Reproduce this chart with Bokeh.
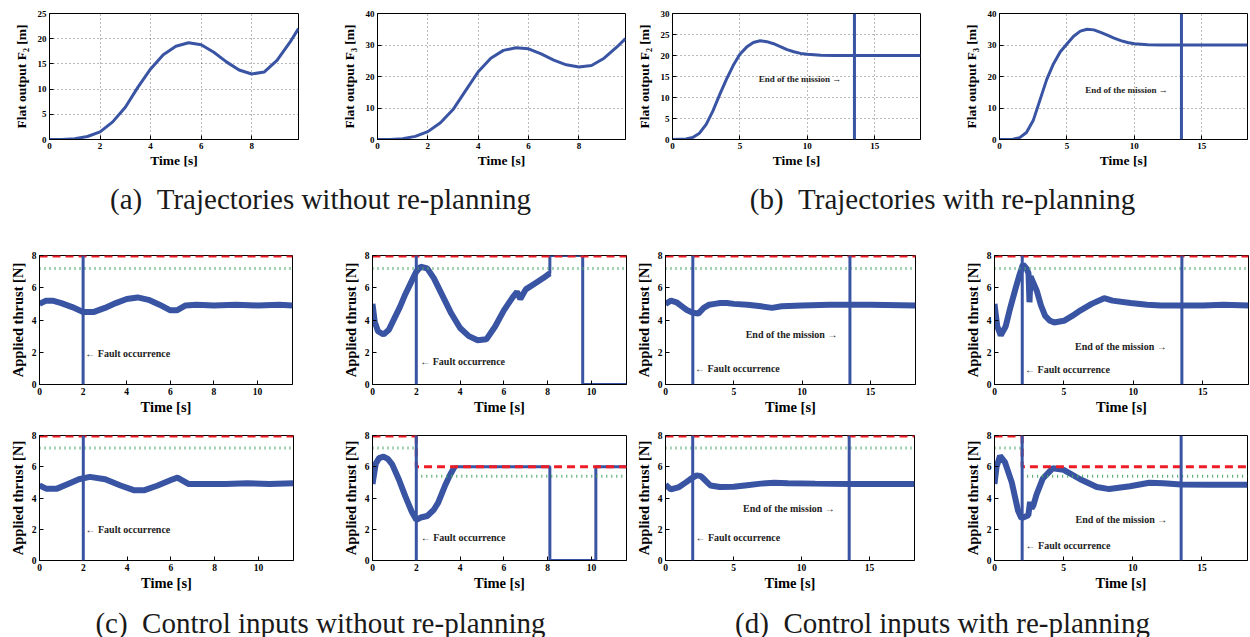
from bokeh.plotting import figure
from bokeh.models import Range1d, Span, Label, FixedTicker
from bokeh.layouts import row, column
from bokeh.embed import file_html
from bokeh.resources import INLINE

# ---------------- data ----------------
# (a) trajectories without re-planning
t_a = [0, 0.5, 1, 1.5, 2, 2.5, 3, 3.5, 4, 4.5, 5, 5.5, 6, 6.5, 7, 7.5, 8, 8.5, 9, 9.5, 9.85]
f2_a = [0, 0.02, 0.15, 0.6, 1.5, 3.5, 6.4, 10.4, 14.0, 16.8, 18.5, 19.2, 18.8, 17.3, 15.4, 13.8, 13.0, 13.4, 15.7, 19.2, 22.0]
f3_a = [0, 0.03, 0.25, 1.0, 2.5, 5.3, 9.5, 15.5, 21.5, 25.8, 28.3, 29.1, 28.8, 27.2, 25.2, 23.7, 23.0, 23.5, 25.8, 29.3, 32.0]

# (b) trajectories with re-planning
t_b = [0, 1, 1.5, 2, 2.5, 3, 3.5, 4, 4.5, 5, 5.5, 6, 6.5, 7, 7.5, 8, 8.5, 9, 9.5, 10, 11, 12, 13.5, 18.4]
f2_b = [0, 0.1, 0.5, 1.5, 3.6, 6.8, 10.7, 14.3, 17.6, 20.3, 22.0, 23.1, 23.5, 23.3, 22.8, 22.1, 21.4, 20.9, 20.5, 20.3, 20.05, 20.0, 20.0, 20.0]
f3_b = [0, 0.1, 0.6, 2.2, 6.0, 12.5, 19.0, 24.0, 27.8, 30.3, 32.8, 34.4, 35.0, 34.8, 34.0, 33.1, 32.2, 31.4, 30.8, 30.4, 30.1, 30.0, 30.0, 30.0]

# (c) control inputs without re-planning
t_c1 = [0, 0.3, 0.6, 1.0, 1.5, 2.0, 2.5, 3.0, 3.5, 4.0, 4.5, 5.0, 5.5, 6.0, 6.3, 6.7, 7.2, 8.0, 9.0, 10.0, 11.0, 11.6]
u_c1 = [5.0, 5.2, 5.2, 5.05, 4.8, 4.5, 4.5, 4.75, 5.05, 5.3, 5.4, 5.25, 4.95, 4.6, 4.6, 4.9, 4.95, 4.9, 4.95, 4.9, 4.95, 4.9]

t_c2 = [0, 0.1, 0.25, 0.5, 0.75, 1.0, 1.25, 1.5, 1.75, 2.0, 2.2, 2.5, 2.8, 3.2, 3.6, 4.0,
        4.4, 4.8, 5.2, 5.6, 6.0, 6.4, 6.6, 6.75, 7.0, 7.4, 7.8, 8.1, 8.1, 9.6, 9.6, 11.6]
u_c2 = [5.0, 3.9, 3.3, 3.1, 3.4, 4.1, 4.8, 5.6, 6.3, 7.0, 7.3, 7.2, 6.6, 5.5, 4.4, 3.5,
        3.0, 2.75, 2.8, 3.6, 4.6, 5.4, 5.75, 5.3, 5.9, 6.25, 6.6, 6.9, 8.0, 8.0, 0.0, 0.0]

t_c3 = [0, 0.3, 0.8, 1.3, 1.8, 2.3, 3.0, 3.7, 4.3, 4.8, 5.4, 6.0, 6.3, 6.8, 7.5, 8.5, 9.5, 10.5, 11.6]
u_c3 = [4.8, 4.6, 4.6, 4.9, 5.2, 5.35, 5.2, 4.8, 4.5, 4.5, 4.8, 5.15, 5.3, 4.9, 4.9, 4.9, 4.95, 4.9, 4.95]

t_c4 = [0, 0.15, 0.3, 0.5, 0.7, 0.9, 1.2, 1.5, 1.8, 2.0, 2.2, 2.5, 2.8, 3.0, 3.3, 3.55, 3.75, 8.1, 8.1, 10.2, 10.2, 11.6]
u_c4 = [4.9, 6.2, 6.55, 6.65, 6.5, 6.15, 5.2, 4.1, 3.1, 2.6, 2.75, 2.85, 3.25, 3.7, 4.75, 5.5, 6.0, 6.0, 0.0, 0.0, 6.0, 6.0]

# (d) control inputs with re-planning
t_d1 = [0, 0.4, 0.8, 1.2, 1.6, 2.0, 2.4, 2.8, 3.2, 3.6, 4.0, 4.5, 5.0, 6.0, 7.0, 7.8, 8.5, 10, 12, 13.5, 15, 18.3]
u_d1 = [5.0, 5.2, 5.1, 4.85, 4.6, 4.45, 4.4, 4.75, 4.95, 5.0, 5.05, 5.05, 5.0, 4.95, 4.85, 4.75, 4.85, 4.9, 4.95, 4.95, 4.95, 4.9]

t_d2 = [0, 0.2, 0.45, 0.8, 1.15, 1.5, 1.8, 2.05, 2.3, 2.45, 2.52, 2.6, 2.8, 3.05, 3.35, 3.65,
        4.0, 4.3, 5.0, 5.6, 6.2, 7.0, 7.9, 8.5, 9.8, 11.0, 12.0, 13.5, 15.0, 16.5, 18.3]
u_d2 = [5.0, 3.6, 3.05, 3.6, 4.8, 5.9, 6.8, 7.45, 7.2, 6.9, 5.1, 6.7, 6.3, 5.8, 4.9, 4.25,
        3.95, 3.85, 3.95, 4.25, 4.6, 5.0, 5.35, 5.2, 5.05, 4.95, 4.9, 4.9, 4.9, 4.95, 4.9]

t_d3 = [0, 0.4, 1.0, 1.5, 1.9, 2.3, 2.6, 2.9, 3.3, 4.0, 5.0, 6.0, 7.0, 8.0, 9.0, 11.0, 13.5, 16.0, 18.3]
u_d3 = [4.85, 4.55, 4.7, 5.0, 5.25, 5.45, 5.4, 5.15, 4.8, 4.7, 4.72, 4.82, 4.92, 4.97, 4.95, 4.92, 4.9, 4.9, 4.9]

t_d4 = [0, 0.15, 0.4, 0.75, 1.25, 1.7, 1.95, 2.2, 2.45, 2.57, 2.68, 2.8, 3.05, 3.5, 4.2, 5.0,
        6.2, 7.4, 8.3, 9.8, 11.2, 12.2, 13.5, 15.5, 18.3]
u_d4 = [4.9, 6.0, 6.7, 6.3, 5.0, 3.2, 2.7, 2.8, 2.9, 3.75, 3.35, 3.5, 4.25, 5.25, 5.9, 5.8,
        5.2, 4.7, 4.57, 4.75, 4.98, 4.95, 4.87, 4.85, 4.85]

fault_time = 2.0
mission_end = 13.5
thrust_max = 8.0
thrust_warn = 7.2
thrust_max_degraded = 6.0
thrust_warn_degraded = 5.4

ticks_t_short = [0, 2, 4, 6, 8]
ticks_t_thrust = [0, 2, 4, 6, 8, 10]
ticks_t_long = [0, 5, 10, 15]
ticks_f2_a = [0, 5, 10, 15, 20, 25]
ticks_f3 = [0, 10, 20, 30, 40]
ticks_f2_b = [0, 5, 10, 15, 20, 25, 30]
ticks_thrust = [0, 2, 4, 6, 8]

captions = ["(a)\u2002Trajectories without re-planning",
            "(b)\u2002Trajectories with re-planning",
            "(c)\u2002Control inputs without re-planning",
            "(d)\u2002Control inputs with re-planning"]

# ---------------- style ----------------
BLUE = "#3a54a4"
RED = "#ee1c25"
GREEN = "#4aa564"
FONT = "Liberation Serif"
PAGE_W = 1249


def make_fig(w, h, bl, br, bt, bb, x_end, y_end, xticks, yticks, ylabel, grid,
             ylab_standoff, tick_size, label_size):
    p = figure(width=w, height=h, x_range=Range1d(0, x_end), y_range=Range1d(0, y_end),
               output_backend="svg", toolbar_location=None,
               min_border_left=bl, min_border_right=br, min_border_top=bt, min_border_bottom=bb)
    p.background_fill_color = "white"
    p.border_fill_color = "white"
    p.outline_line_color = "black"
    p.outline_line_width = 1
    p.outline_line_alpha = 1
    p.xaxis.ticker = FixedTicker(ticks=xticks)
    p.yaxis.ticker = FixedTicker(ticks=yticks)
    p.xaxis.axis_label = "Time [s]"
    p.yaxis.axis_label = ylabel
    for ax in p.axis:
        ax.major_tick_in = 4
        ax.major_tick_out = 0
        ax.minor_tick_line_color = None
        ax.axis_line_color = "black"
        ax.major_tick_line_color = "black"
        ax.major_label_text_font = FONT
        ax.major_label_text_font_style = "bold"
        ax.major_label_text_font_size = tick_size
        ax.major_label_text_color = "black"
        ax.axis_label_text_font = FONT
        ax.axis_label_text_font_style = "bold"
        ax.axis_label_text_font_size = label_size
        ax.axis_label_text_color = "black"
    p.xaxis.major_label_standoff = 3
    p.xaxis.axis_label_standoff = 1
    p.yaxis.major_label_standoff = 3
    p.yaxis.axis_label_standoff = ylab_standoff
    if grid:
        p.grid.grid_line_color = "black"
        p.grid.grid_line_dash = "1 3"
        p.grid.grid_line_alpha = 0.55
        p.grid.grid_line_width = 1
    else:
        p.grid.visible = False
    return p


def top_fig(w, bl, br, x_end, y_end, xticks, yticks, ylabel):
    return make_fig(w, 178, bl, br, 13, 39, x_end, y_end, xticks, yticks, ylabel, True, 6,
                    "9px", "13.5px")


def thrust_fig(w, h, bl, br, bb, x_end, xticks):
    return make_fig(w, h, bl, br, 15, bb, x_end, 8, xticks, ticks_thrust, "Applied thrust [N]",
                    False, 3, "9.5px", "14.5px")


def vline(p, loc):
    p.add_layout(Span(location=loc, dimension="height", line_color=BLUE, line_width=3))


def note(p, x, y, text, size="10px"):
    p.add_layout(Label(x=x, y=y, text=text, text_font=FONT, text_font_style="bold",
                       text_font_size=size, text_color="#222222",
                       text_baseline="middle", text_align="left"))


def limits_nominal(p, x_end):
    p.line([0, x_end], [thrust_warn, thrust_warn], line_color=GREEN, line_width=3, line_dash="1 4")
    p.line([0, x_end], [thrust_max, thrust_max], line_color=RED, line_width=4, line_dash="8 5")


def limits_degraded(p, x_end):
    p.segment(x0=[0, fault_time], y0=[thrust_warn, thrust_warn_degraded],
              x1=[fault_time, x_end], y1=[thrust_warn, thrust_warn_degraded],
              line_color=GREEN, line_width=3, line_dash="1 4")
    p.line([0, fault_time], [thrust_max, thrust_max], line_color=RED, line_width=4, line_dash="8 5")
    p.line([fault_time, fault_time, x_end],
           [thrust_max, thrust_max_degraded, thrust_max_degraded],
           line_color=RED, line_width=3, line_dash="8 5")


def caption_fig(h, y, left_text, right_text):
    p = figure(width=PAGE_W, height=h, x_range=Range1d(0, PAGE_W), y_range=Range1d(0, h),
               output_backend="svg", toolbar_location=None, x_axis_type=None, y_axis_type=None,
               min_border=0)
    p.outline_line_color = None
    p.background_fill_color = "white"
    p.border_fill_color = "white"
    for x, t in ((320, left_text), (942, right_text)):
        p.add_layout(Label(x=x, y=y, text=t, text_font=FONT, text_font_size="29px",
                           text_color="#1a1a1a", text_align="center", text_baseline="middle"))
    return p


XS = 9.85
XL = 18.4
XC = 11.6
XD = 18.3

# ---------------- row 1 ----------------
f1 = top_fig(338, 49, 40, XS, 25, ticks_t_short, ticks_f2_a, "Flat output F\u2082 [m]")
f1.line(t_a, f2_a, line_color=BLUE, line_width=3)

f2 = top_fig(295, 39, 8, XS, 40, ticks_t_short, ticks_f3, "Flat output F\u2083 [m]")
f2.line(t_a, f3_a, line_color=BLUE, line_width=3)

f3 = top_fig(327, 38, 40, XL, 30, ticks_t_long, ticks_f2_b, "Flat output F\u2082 [m]")
f3.line(t_b, f2_b, line_color=BLUE, line_width=3)
vline(f3, mission_end)
note(f3, 6.4, 14.3, "End of the mission \u2192", "9px")

f4 = top_fig(289, 39, 2, XL, 40, ticks_t_long, ticks_f3, "Flat output F\u2083 [m]")
f4.line(t_b, f3_b, line_color=BLUE, line_width=3)
vline(f4, mission_end)
note(f4, 6.37, 15.7, "End of the mission \u2192", "9px")

# ---------------- row 2 ----------------
f5 = thrust_fig(335, 180, 39, 43, 36, XC, ticks_t_thrust)
f5.line(t_c1, u_c1, line_color=BLUE, line_width=6)
limits_nominal(f5, XC)
vline(f5, fault_time)
note(f5, 2.1, 1.9, "\u2190 Fault occurrence")

f6 = thrust_fig(297, 180, 37, 6, 36, XC, ticks_t_thrust)
f6.line(t_c2, u_c2, line_color=BLUE, line_width=3)
f6.line(t_c2[:28], u_c2[:28], line_color=BLUE, line_width=6)
limits_nominal(f6, XC)
vline(f6, fault_time)
note(f6, 2.18, 1.45, "\u2190 Fault occurrence")

f7 = thrust_fig(328, 180, 29, 45, 36, XD, ticks_t_long)
f7.line(t_d1, u_d1, line_color=BLUE, line_width=6)
limits_nominal(f7, XD)
vline(f7, fault_time)
vline(f7, mission_end)
note(f7, 2.16, 1.0, "\u2190 Fault occurrence")
note(f7, 5.87, 3.1, "End of the mission \u2192")

f8 = thrust_fig(289, 180, 34, 1, 36, XD, ticks_t_long)
f8.line(t_d2, u_d2, line_color=BLUE, line_width=6)
limits_nominal(f8, XD)
vline(f8, fault_time)
vline(f8, mission_end)
note(f8, 2.2, 0.91, "\u2190 Fault occurrence")
note(f8, 5.8, 2.36, "End of the mission \u2192")

# ---------------- row 3 ----------------
f9 = thrust_fig(335, 173, 39, 42, 30, XC, ticks_t_thrust)
f9.line(t_c3, u_c3, line_color=BLUE, line_width=6)
limits_nominal(f9, XC)
vline(f9, fault_time)
note(f9, 2.1, 2.0, "\u2190 Fault occurrence")

f10 = thrust_fig(297, 173, 37, 6, 30, XC, ticks_t_thrust)
f10.line(t_c4, u_c4, line_color=BLUE, line_width=3)
f10.line(t_c4[:17], u_c4[:17], line_color=BLUE, line_width=6)
limits_degraded(f10, XC)
vline(f10, fault_time)
note(f10, 2.2, 1.5, "\u2190 Fault occurrence")

f11 = thrust_fig(328, 173, 29, 46, 30, XD, ticks_t_long)
f11.line(t_d3, u_d3, line_color=BLUE, line_width=6)
limits_nominal(f11, XD)
vline(f11, fault_time)
vline(f11, mission_end)
note(f11, 2.2, 1.5, "\u2190 Fault occurrence")
note(f11, 5.7, 3.36, "End of the mission \u2192")

f12 = thrust_fig(289, 173, 34, 2, 30, XD, ticks_t_long)
f12.line(t_d4, u_d4, line_color=BLUE, line_width=6)
limits_degraded(f12, XD)
vline(f12, fault_time)
vline(f12, mission_end)
note(f12, 2.25, 0.97, "\u2190 Fault occurrence")
note(f12, 5.86, 2.65, "End of the mission \u2192")

# ---------------- captions ----------------
cap1 = caption_fig(62, 42, captions[0], captions[1])
cap2 = caption_fig(44, 15, captions[2], captions[3])

layout = column(
    row(f1, f2, f3, f4, spacing=0),
    cap1,
    row(f5, f6, f7, f8, spacing=0),
    row(f9, f10, f11, f12, spacing=0),
    cap2,
    spacing=0,
)

open("out.html", "w").write(file_html(layout, INLINE))
